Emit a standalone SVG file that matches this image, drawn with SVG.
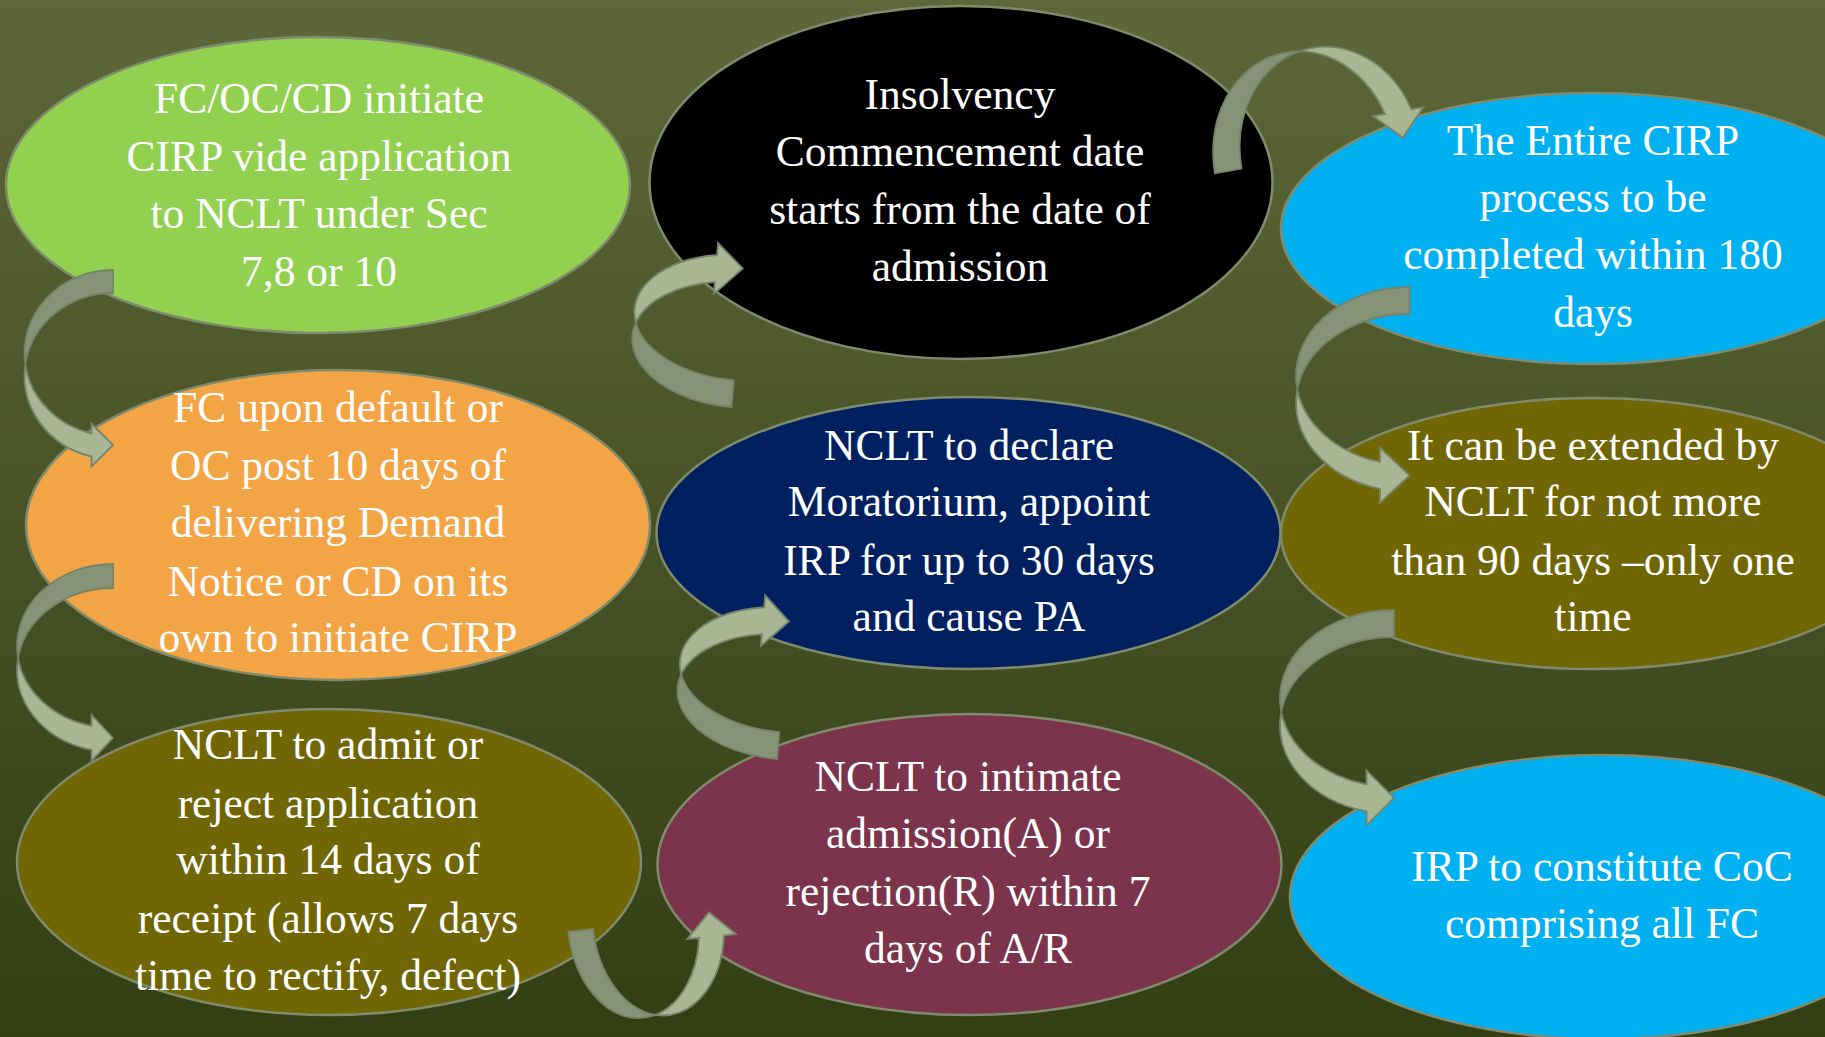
<svg xmlns="http://www.w3.org/2000/svg" width="1825" height="1037" viewBox="0 0 1825 1037">
<defs>
<linearGradient id="bg" x1="0" y1="0" x2="0" y2="1">
<stop offset="0" stop-color="#5d6739"/>
<stop offset="1" stop-color="#333e13"/>
</linearGradient>
<style>
.node ellipse{stroke:#7f8b6c;stroke-width:2.5}
.node text{font-family:"Liberation Serif","Times New Roman",serif;font-size:43.5px;fill:#ffffff;text-anchor:middle}
.back{fill:#879376;stroke:#75836a;stroke-width:1.8;stroke-linejoin:miter}
.front{fill:#a8b693;stroke:#75836a;stroke-width:1.8;stroke-linejoin:miter}
</style>
</defs>
<rect x="0" y="0" width="1825" height="1037" fill="url(#bg)"/>

<g id="n1" class="node">
<ellipse cx="318" cy="185" rx="312" ry="148" fill="#92d050"/>
<text><tspan x="319" y="113">FC/OC/CD initiate</tspan><tspan x="319" y="170.5">CIRP vide application</tspan><tspan x="319" y="228">to NCLT under Sec</tspan><tspan x="319" y="285.5">7,8 or 10</tspan></text>
</g>
<g id="n2" class="node">
<ellipse cx="338" cy="525" rx="312" ry="155" fill="#f3a546"/>
<text><tspan x="338" y="422">FC upon default or</tspan><tspan x="338" y="480">OC post 10 days of</tspan><tspan x="338" y="537">delivering Demand</tspan><tspan x="338" y="596">Notice or CD on its</tspan><tspan x="338" y="652">own to initiate CIRP</tspan></text>
</g>
<g id="n3" class="node">
<ellipse cx="329" cy="862" rx="312" ry="153" fill="#716605"/>
<text><tspan x="328" y="759">NCLT to admit or</tspan><tspan x="328" y="818">reject application</tspan><tspan x="328" y="874">within 14 days of</tspan><tspan x="328" y="933">receipt (allows 7 days</tspan><tspan x="328" y="990">time to rectify, defect)</tspan></text>
</g>
<g id="n4" class="node">
<ellipse cx="969.5" cy="864.5" rx="312" ry="150.5" fill="#7b344c"/>
<text><tspan x="968" y="791">NCLT to intimate</tspan><tspan x="968" y="848">admission(A) or</tspan><tspan x="968" y="906">rejection(R) within 7</tspan><tspan x="968" y="963">days of A/R</tspan></text>
</g>
<g id="n5" class="node">
<ellipse cx="968.5" cy="533" rx="312" ry="136" fill="#002060"/>
<text><tspan x="969" y="460">NCLT to declare</tspan><tspan x="969" y="516">Moratorium, appoint</tspan><tspan x="969" y="575">IRP for up to 30 days</tspan><tspan x="969" y="631">and cause PA</tspan></text>
</g>
<g id="n6" class="node">
<ellipse cx="961" cy="182.5" rx="311.5" ry="176.5" fill="#000000"/>
<text><tspan x="960" y="108.5">Insolvency</tspan><tspan x="960" y="166">Commencement date</tspan><tspan x="960" y="223.5">starts from the date of</tspan><tspan x="960" y="281">admission</tspan></text>
</g>
<g id="n7" class="node">
<ellipse cx="1593" cy="228.5" rx="312" ry="135.5" fill="#00b0f0"/>
<text><tspan x="1593" y="155">The Entire CIRP</tspan><tspan x="1593" y="212">process to be</tspan><tspan x="1593" y="269">completed within 180</tspan><tspan x="1593" y="327">days</tspan></text>
</g>
<g id="n8" class="node">
<ellipse cx="1593" cy="533.5" rx="312" ry="135.5" fill="#716605"/>
<text><tspan x="1593" y="460">It can be extended by</tspan><tspan x="1593" y="516">NCLT for not more</tspan><tspan x="1593" y="575">than 90 days –only one</tspan><tspan x="1593" y="631">time</tspan></text>
</g>
<g id="n9" class="node">
<ellipse cx="1602" cy="897" rx="312" ry="142" fill="#00b0f0"/>
<text><tspan x="1602" y="881">IRP to constitute CoC</tspan><tspan x="1602" y="938">comprising all FC</tspan></text>
</g>

<g id="connectors">
<g id="a1">
<path class="back" d="M113,270 A88.5,83 0 0 0 25.35,364.5 A88.5,83 0 0 1 113,293 Z"/>
<path class="front" d="M25.35,364.5 A88.5,83 0 0 0 91.5,456.5 L91.5,466.5 L113,445 L91.5,423.5 L91.5,433.5 A88.5,83 0 0 1 25.35,364.5 Z"/>
</g>
<g id="a2">
<path class="back" d="M113,564 A96,82 0 0 0 18.03,658 A96,82 0 0 1 113,588 Z"/>
<path class="front" d="M18.03,658 A96,82 0 0 0 91.5,749.9 L91.5,760.9 L113,737.9 L91.5,714.9 L91.5,725.9 A96,82 0 0 1 18.03,658 Z"/>
</g>
<g id="a3" transform="rotate(-6 568.3 931.7)">
<path class="back" d="M568.3,931.7 A65.5,93.5 0 0 0 646.3,1023.5 A65.5,93.5 0 0 1 593.3,931.7 Z"/>
<path class="front" d="M646.3,1023.5 A65.5,93.5 0 0 0 722.8,951.5 L734.8,951.5 L710.3,927 L685.8,951.5 L697.8,951.5 A65.5,93.5 0 0 1 646.3,1023.5 Z"/>
</g>
<g id="a4" transform="rotate(5 777 759)">
<path class="back" d="M777,759 A105.3,62.5 0 0 1 674.2,683 A105.3,62.5 0 0 0 777,732 Z"/>
<path class="front" d="M674.2,683 A105.3,62.5 0 0 1 751,608.94 L751,596.94 L777,621 L751,647.94 L751,635.94 A105.3,62.5 0 0 0 674.2,683 Z"/>
</g>
<g id="a5" transform="rotate(4.6 731.6 407)">
<path class="back" d="M731.6,407 A104.7,62.7 0 0 1 629.36,330.8 A104.7,62.7 0 0 0 731.6,380 Z"/>
<path class="front" d="M629.36,330.8 A104.7,62.7 0 0 1 704.9,256.67 L704.9,244.67 L731.6,268 L704.9,295.67 L704.9,283.67 A104.7,62.7 0 0 0 629.36,330.8 Z"/>
</g>
<g id="a6" transform="rotate(-10 1215 173.3)">
<path class="back" d="M1215,173.3 A90.5,106.6 0 0 1 1319,67.9 A90.5,106.6 0 0 0 1242,173.3 Z"/>
<path class="front" d="M1319,67.9 A90.5,106.6 0 0 1 1419.6,144.4 L1431.6,144.4 L1406.1,171 L1380.6,144.4 L1392.6,144.4 A90.5,106.6 0 0 0 1319,67.9 Z"/>
</g>
<g id="a7">
<path class="back" d="M1409.5,287 A113.5,89 0 0 0 1297.3,389.5 A113.5,89 0 0 1 1409.5,314 Z"/>
<path class="front" d="M1297.3,389.5 A113.5,89 0 0 0 1380,488.9 L1380,502.9 L1409.5,475.4 L1380,447.9 L1380,461.9 A113.5,89 0 0 1 1297.3,389.5 Z"/>
</g>
<g id="a8">
<path class="back" d="M1394,610 A114,88.5 0 0 0 1281.3,712 A114,88.5 0 0 1 1394,637 Z"/>
<path class="front" d="M1281.3,712 A114,88.5 0 0 0 1366.5,811.4 L1366.5,825.4 L1394,797.9 L1366.5,770.4 L1366.5,784.4 A114,88.5 0 0 1 1281.3,712 Z"/>
</g>
</g>
</svg>
